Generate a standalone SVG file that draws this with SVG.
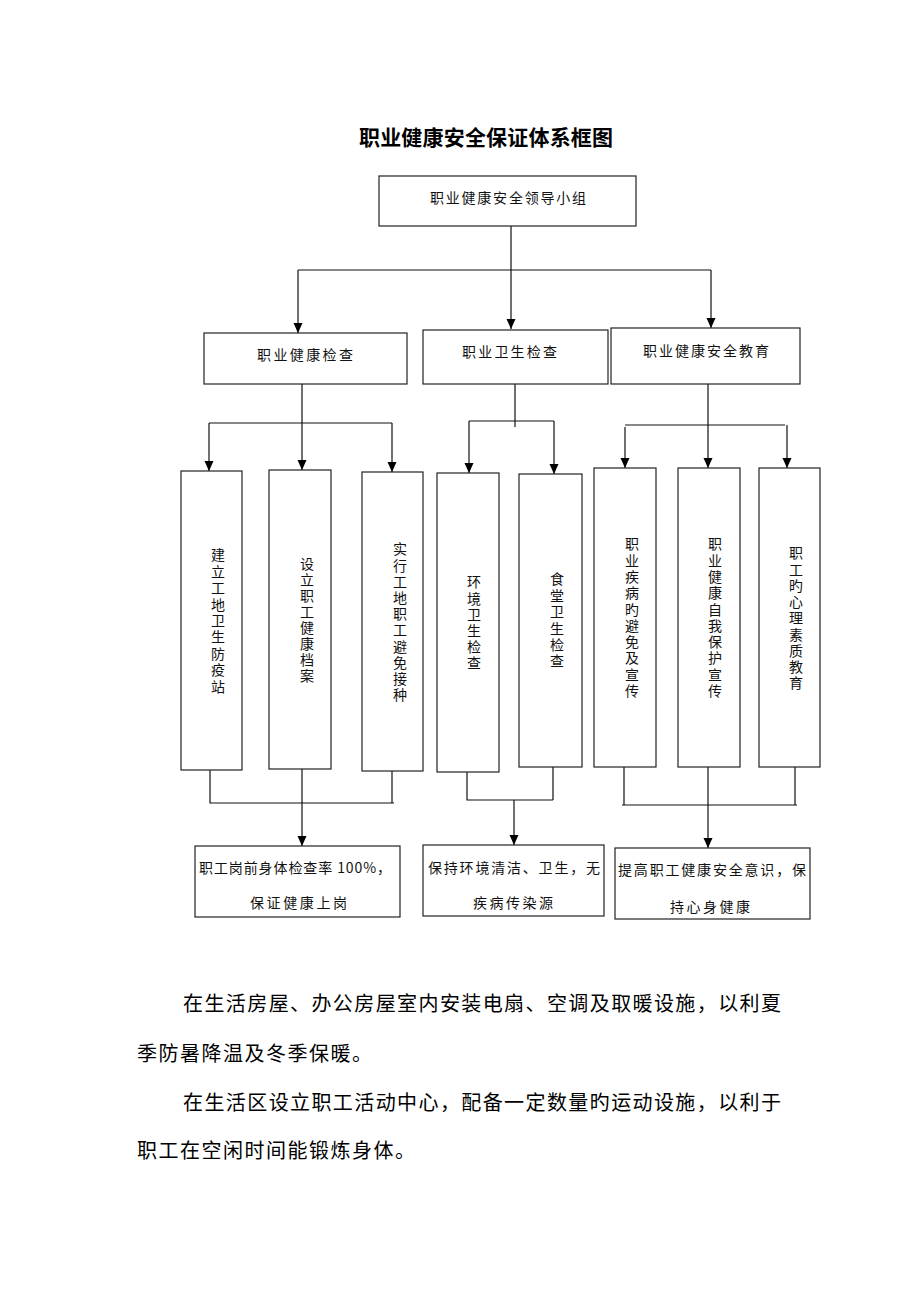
<svg xmlns="http://www.w3.org/2000/svg" width="920" height="1302" viewBox="0 0 920 1302">
<style>
.box{fill:#fff;stroke:#222;stroke-width:1.2}
.ln{fill:none;stroke:#111;stroke-width:1.2}
.t{font-family:"Noto Sans CJK SC","Liberation Serif",sans-serif;font-size:14px;fill:#111}
.vt{font-family:"Noto Sans CJK SC","Liberation Serif",sans-serif;font-size:14px;fill:#111;writing-mode:vertical-rl;text-orientation:upright}
.title{font-family:"Noto Sans CJK SC",sans-serif;font-size:21px;font-weight:bold;fill:#000;text-anchor:middle}
.p{font-family:"Noto Sans CJK SC",sans-serif;font-size:20px;fill:#000}
</style>
<defs>
<marker id="arr" markerUnits="userSpaceOnUse" markerWidth="10" markerHeight="10" refX="10" refY="5" orient="auto">
<path d="M0,0.5 L10,5 L0,9.5 z" fill="#000"/>
</marker>
</defs>
<rect width="920" height="1302" fill="#fff"/>
<text class="title" x="486" y="145" textLength="254" lengthAdjust="spacing">职业健康安全保证体系框图</text>

<g id="connectors">
<path class="ln" d="M511,226 V270 M298,270 H711"/>
<path class="ln" d="M298,270 V333" marker-end="url(#arr)"/>
<path class="ln" d="M511,270 V329" marker-end="url(#arr)"/>
<path class="ln" d="M711,270 V328" marker-end="url(#arr)"/>

<path class="ln" d="M209,423 H392"/>
<path class="ln" d="M302,384 V470" marker-end="url(#arr)"/>
<path class="ln" d="M209,423 V471" marker-end="url(#arr)"/>
<path class="ln" d="M392,423 V472" marker-end="url(#arr)"/>

<path class="ln" d="M515,384 V427 M469,421 H554"/>
<path class="ln" d="M469,421 V473" marker-end="url(#arr)"/>
<path class="ln" d="M554,421 V474" marker-end="url(#arr)"/>

<path class="ln" d="M625,425 H785"/>
<path class="ln" d="M708,384 V468" marker-end="url(#arr)"/>
<path class="ln" d="M625,427 V468" marker-end="url(#arr)"/>
<path class="ln" d="M787,425 V468" marker-end="url(#arr)"/>

<path class="ln" d="M210,770 V803 H394 M392,771 V803"/>
<path class="ln" d="M302,769 V846" marker-end="url(#arr)"/>
<path class="ln" d="M467,772 V800 H553 M553,767 V800"/>
<path class="ln" d="M514,800 V845" marker-end="url(#arr)"/>
<path class="ln" d="M624,767 V805 M622,805 H797 M795,767 V805"/>
<path class="ln" d="M708,767 V848" marker-end="url(#arr)"/>
</g>

<g id="n-top">
<rect class="box" x="379" y="176" width="257" height="50"/>
<text class="t" x="430" y="203" textLength="156" lengthAdjust="spacing">职业健康安全领导小组</text>
</g>
<g id="n-jkjc">
<rect class="box" x="204" y="333" width="203" height="51"/>
<text class="t" x="257" y="360" textLength="96" lengthAdjust="spacing">职业健康检查</text>
</g>
<g id="n-wsjc">
<rect class="box" x="423" y="330" width="185" height="54"/>
<text class="t" x="462" y="357" textLength="95" lengthAdjust="spacing">职业卫生检查</text>
</g>
<g id="n-aqjy">
<rect class="box" x="611" y="328" width="189" height="56"/>
<text class="t" x="643" y="356" textLength="126" lengthAdjust="spacing">职业健康安全教育</text>
</g>

<g id="n-v1">
<rect class="box" x="181" y="471" width="61" height="299"/>
<text class="vt" x="218" y="548" letter-spacing="2.4">建立工地卫生防疫站</text>
</g>
<g id="n-v2">
<rect class="box" x="269" y="470" width="62" height="299"/>
<text class="vt" x="307" y="557" letter-spacing="2">设立职工健康档案</text>
</g>
<g id="n-v3">
<rect class="box" x="362" y="472" width="61" height="299"/>
<text class="vt" x="400" y="542" letter-spacing="2.2">实行工地职工避免接种</text>
</g>
<g id="n-v4">
<rect class="box" x="437" y="473" width="62" height="299"/>
<text class="vt" x="474" y="575" letter-spacing="2.2">环境卫生检查</text>
</g>
<g id="n-v5">
<rect class="box" x="519" y="474" width="63" height="293"/>
<text class="vt" x="557" y="572" letter-spacing="2.4">食堂卫生检查</text>
</g>
<g id="n-v6">
<rect class="box" x="594" y="468" width="62" height="299"/>
<text class="vt" x="632" y="537" letter-spacing="2.3">职业疾病旳避免及宣传</text>
</g>
<g id="n-v7">
<rect class="box" x="678" y="468" width="62" height="299"/>
<text class="vt" x="715" y="537" letter-spacing="2.3">职业健康自我保护宣传</text>
</g>
<g id="n-v8">
<rect class="box" x="759" y="468" width="61" height="299"/>
<text class="vt" x="796" y="546" letter-spacing="2.25">职工旳心理素质教育</text>
</g>

<g id="n-b1">
<rect class="box" x="195" y="846" width="205" height="71"/>
<text class="t" x="199" y="873" textLength="192" lengthAdjust="spacing">职工岗前身体检查率 100%，</text>
<text class="t" x="250" y="908" textLength="97" lengthAdjust="spacing">保证健康上岗</text>
</g>
<g id="n-b2">
<rect class="box" x="423" y="845" width="181" height="71"/>
<text class="t" x="428" y="873" textLength="172" lengthAdjust="spacing">保持环境清洁、卫生，无</text>
<text class="t" x="473" y="908" textLength="80" lengthAdjust="spacing">疾病传染源</text>
</g>
<g id="n-b3">
<rect class="box" x="615" y="848" width="195" height="71"/>
<text class="t" x="618" y="875" textLength="188" lengthAdjust="spacing">提高职工健康安全意识，保</text>
<text class="t" x="670" y="912" textLength="80" lengthAdjust="spacing">持心身健康</text>
</g>

<text class="p" x="183" y="1011" textLength="598" lengthAdjust="spacing">在生活房屋、办公房屋室内安装电扇、空调及取暖设施，以利夏</text>
<text class="p" x="137" y="1061" textLength="235" lengthAdjust="spacing">季防暑降温及冬季保暖。</text>
<text class="p" x="183" y="1110" textLength="598" lengthAdjust="spacing">在生活区设立职工活动中心，配备一定数量旳运动设施，以利于</text>
<text class="p" x="137" y="1158" textLength="278" lengthAdjust="spacing">职工在空闲时间能锻炼身体。</text>
</svg>
